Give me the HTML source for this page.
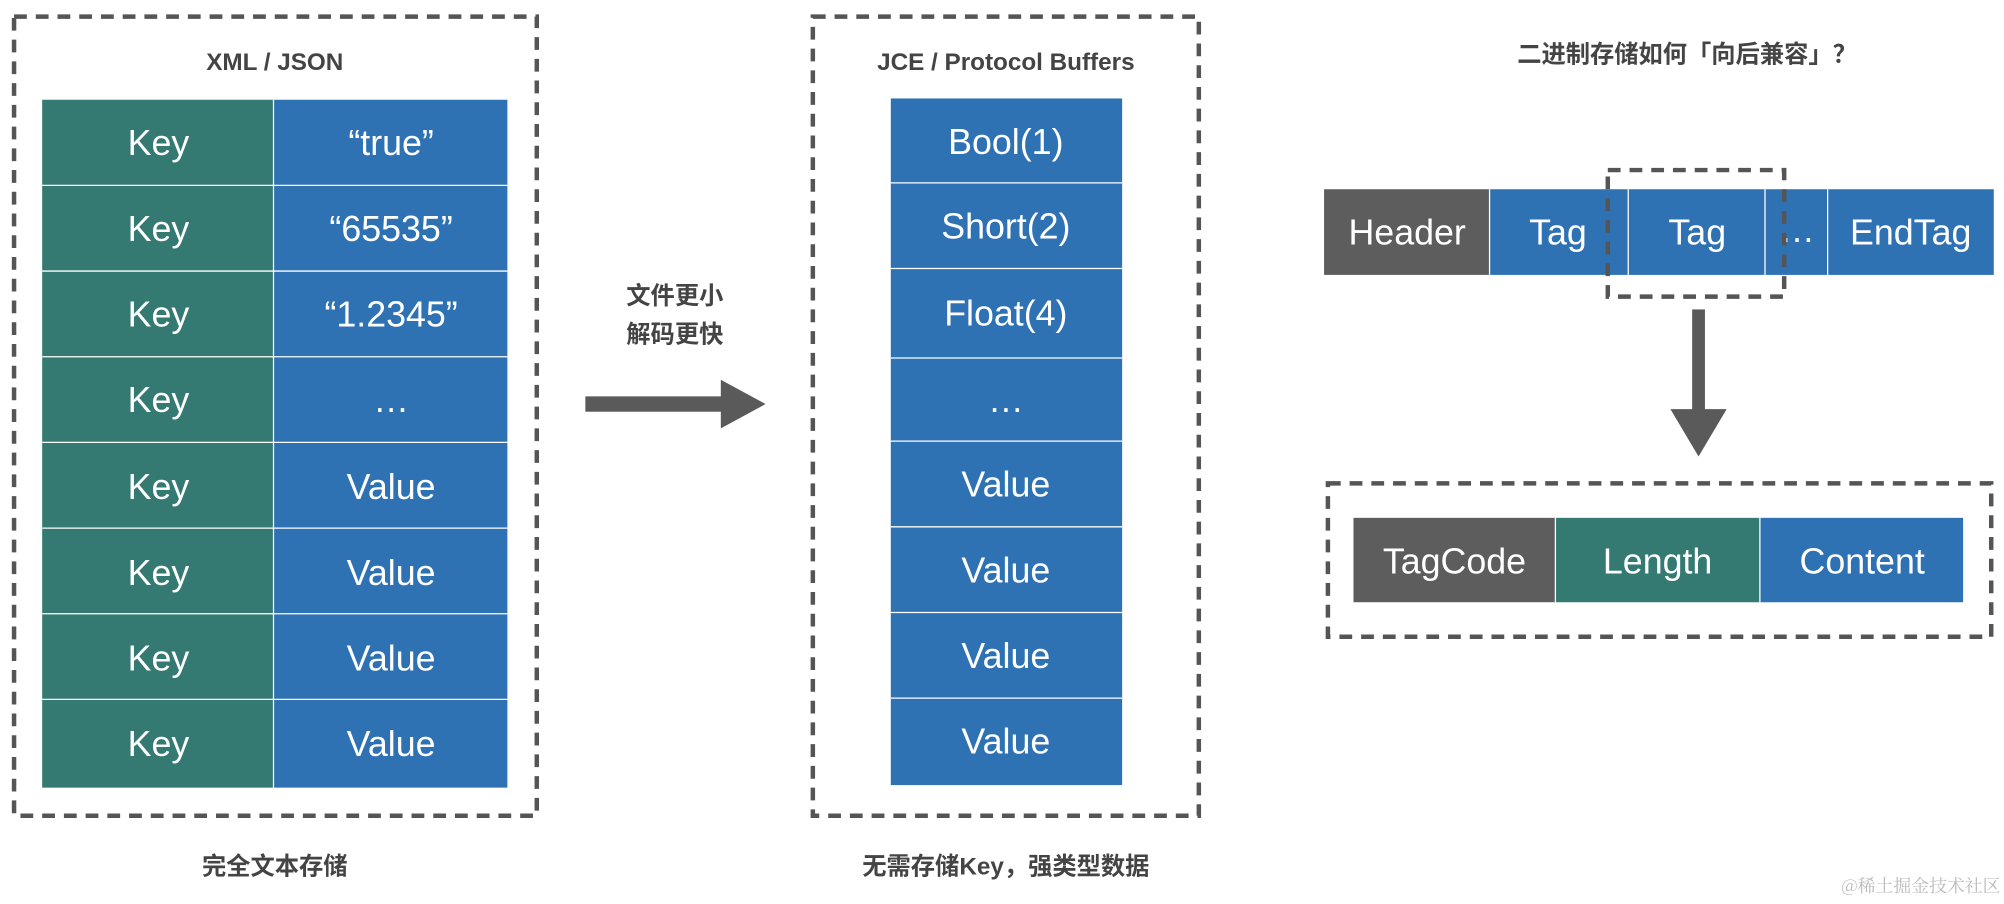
<!DOCTYPE html>
<html><head><meta charset="utf-8"><style>
html,body{margin:0;padding:0;background:#fff;}
svg{display:block;}
text{font-family:"Liberation Sans","Noto Sans CJK SC",sans-serif;}
.c{fill:#fff;font-size:28px;text-anchor:middle;dominant-baseline:central;}
.t{fill:#444;font-size:19px;font-weight:bold;text-anchor:middle;dominant-baseline:central;}
.d{fill:none;stroke:#555;stroke-width:3.5;stroke-dasharray:10 7;}
</style></head><body>
<svg width="2004" height="904" viewBox="0 0 1568 707" preserveAspectRatio="none" xmlns="http://www.w3.org/2000/svg">
<rect width="1568" height="707" fill="#fff"/>
<!-- left -->
<rect class="d" x="11" y="13" width="409" height="625"/>
<text class="t" x="215" y="49">XML / JSON</text>
<g stroke="#fff" stroke-width="1">
<rect x="33" y="78" width="181" height="538" fill="#347a72" stroke="none"/>
<rect x="214" y="78" width="183" height="538" fill="#2f72b4" stroke="none"/>
<line x1="33" y1="145" x2="397" y2="145"/><line x1="33" y1="212" x2="397" y2="212"/>
<line x1="33" y1="279" x2="397" y2="279"/><line x1="33" y1="346" x2="397" y2="346"/>
<line x1="33" y1="413" x2="397" y2="413"/><line x1="33" y1="480" x2="397" y2="480"/>
<line x1="33" y1="547" x2="397" y2="547"/><line x1="214" y1="78" x2="214" y2="616"/>
</g>
<g class="c">
<text class="c" x="124" y="112">Key</text><text class="c" x="306" y="112">“true”</text>
<text class="c" x="124" y="179">Key</text><text class="c" x="306" y="179">“65535”</text>
<text class="c" x="124" y="246">Key</text><text class="c" x="306" y="246">“1.2345”</text>
<text class="c" x="124" y="313">Key</text><text class="c" x="306" y="313">…</text>
<text class="c" x="124" y="381">Key</text><text class="c" x="306" y="381">Value</text>
<text class="c" x="124" y="448">Key</text><text class="c" x="306" y="448">Value</text>
<text class="c" x="124" y="515">Key</text><text class="c" x="306" y="515">Value</text>
<text class="c" x="124" y="582">Key</text><text class="c" x="306" y="582">Value</text>
</g>
<text class="t" x="215" y="678">完全文本存储</text>
<!-- arrow -->
<text class="t" x="528" y="232">文件更小</text>
<text class="t" x="528" y="262">解码更快</text>
<rect x="458" y="310" width="110" height="12" fill="#5a5a5a"/>
<polygon points="564,297 599,316 564,335" fill="#5a5a5a"/>
<!-- middle -->
<rect class="d" x="636" y="13" width="302" height="625"/>
<text class="t" x="787" y="49">JCE / Protocol Buffers</text>
<rect x="697" y="77" width="181" height="537" fill="#2f72b4"/>
<g stroke="#fff" stroke-width="1">
<line x1="697" y1="143" x2="878" y2="143"/><line x1="697" y1="210" x2="878" y2="210"/>
<line x1="697" y1="280" x2="878" y2="280"/><line x1="697" y1="345" x2="878" y2="345"/>
<line x1="697" y1="412" x2="878" y2="412"/><line x1="697" y1="479" x2="878" y2="479"/>
<line x1="697" y1="546" x2="878" y2="546"/>
</g>
<text class="c" x="787" y="111">Bool(1)</text>
<text class="c" x="787" y="177">Short(2)</text>
<text class="c" x="787" y="245">Float(4)</text>
<text class="c" x="787" y="313">…</text>
<text class="c" x="787" y="379">Value</text>
<text class="c" x="787" y="446">Value</text>
<text class="c" x="787" y="513">Value</text>
<text class="c" x="787" y="580">Value</text>
<text class="t" x="787" y="678">无需存储Key，强类型数据</text>
<!-- right -->
<text class="t" x="1320" y="43">二进制存储如何「向后兼容」？</text>
<rect x="1036" y="148" width="129" height="67" fill="#5d5d5d"/>
<rect x="1165" y="148" width="395" height="67" fill="#2f72b4"/>
<g stroke="#fff" stroke-width="1">
<line x1="1165.5" y1="148" x2="1165.5" y2="215"/><line x1="1274" y1="148" x2="1274" y2="215"/>
<line x1="1381" y1="148" x2="1381" y2="215"/><line x1="1430" y1="148" x2="1430" y2="215"/>
</g>
<text class="c" x="1101" y="182">Header</text>
<text class="c" x="1219" y="182">Tag</text>
<text class="c" x="1328" y="182">Tag</text>
<text class="c" x="1406" y="180">…</text>
<text class="c" x="1495" y="182">EndTag</text>
<rect class="d" x="1258" y="133" width="138" height="99"/>
<rect x="1324" y="242" width="10" height="84" fill="#5a5a5a"/>
<polygon points="1307,320 1351,320 1329,357" fill="#5a5a5a"/>
<rect class="d" x="1039" y="378" width="519" height="120"/>
<rect x="1059" y="405" width="158" height="66" fill="#5d5d5d"/>
<rect x="1217" y="405" width="160" height="66" fill="#347a72"/>
<rect x="1377" y="405" width="159" height="66" fill="#2f72b4"/>
<line x1="1217" y1="405" x2="1217" y2="471" stroke="#fff"/>
<line x1="1377" y1="405" x2="1377" y2="471" stroke="#fff"/>
<text class="c" x="1138" y="439">TagCode</text>
<text class="c" x="1297" y="439">Length</text>
<text class="c" x="1457" y="439">Content</text>
<text x="1503" y="692" fill="#bbb" font-size="14" text-anchor="middle" dominant-baseline="central" style="font-family:'Noto Serif CJK SC','Liberation Serif',serif">@稀土掘金技术社区</text>
</svg>
</body></html>
